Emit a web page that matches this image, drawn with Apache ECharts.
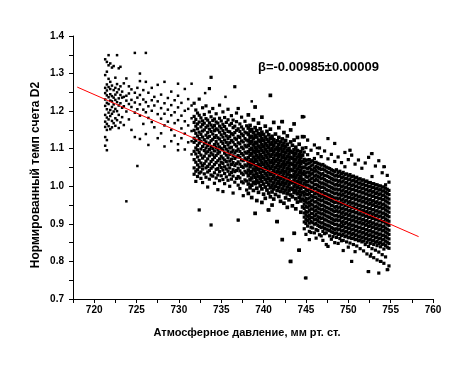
<!DOCTYPE html>
<html><head><meta charset="utf-8">
<script src="https://cdn.jsdelivr.net/npm/echarts@6/dist/echarts.min.js"></script>
<style>html,body{margin:0;padding:0;background:#fff}#c{width:469px;height:367px}</style>
</head><body><div id="c"></div>
<script>
// Each column: [pressure (mm Hg), normalized count rate x1000 ...]
const leftCluster = [
 [721.3,1338,1296,1262,1248,1231,1214,1190,1172,1158,1131,1108],
 [721.5,1331,1305,1271,1255,1242,1222,1205,1183,1166,1150,1123,1096],
 [721.7,1349,1322,1286,1264,1237,1219,1196,1178,1160],
 [721.9,1327,1278,1259,1245,1228,1203,1187,1152],
 [722.1,1316,1268,1240,1226,1211,1193,1174,1157],
 [722.3,1320,1256,1236,1218,1199,1168],
 [722.5,1289,1262,1244,1230,1206,1181,1161],
 [722.7,1349,1272,1250,1224,1200,1176],
 [722.9,1314,1258,1234,1215,1190,1155],
 [723.1,1318,1266,1243,1221,1170],
 [723.3,1252,1236,1209,1184],
 [723.5,1274,1238,1213,1163]
];
const midSparse = [
 [723.8,1287,1241,1228,1199,960],
 [724.1,1266,1247,1219,1178],
 [724.4,1258,1230,1211,1150],
 [724.8,1355,1249,1223,1196,1131],
 [725.1,1262,1236,1205,1054],
 [725.4,1300,1280,1243,1218,1188,1126],
 [725.8,1256,1231,1204,1166],
 [726.1,1355,1278,1224,1197,1139],
 [726.4,1249,1213,1182,1110],
 [726.8,1262,1229,1201,1171],
 [727.1,1238,1215,1157],
 [727.5,1270,1226,1192,1128],
 [727.9,1244,1208,1180,1141],
 [728.3,1278,1221,1193,1162,1106],
 [728.7,1235,1204,1172],
 [729.1,1252,1216,1189,1150,1120],
 [729.5,1229,1197,1168,1135],
 [729.9,1273,1241,1210,1176,1112,1096],
 [730.3,1222,1188,1154,1128],
 [730.7,1259,1201,1173,1140,1098],
 [731.1,1232,1206,1162,1117],
 [731.5,1273,1215,1181,1147,1120,1085]
];
const denseWest = [
 [731.8,1221,1186,1170,1149,1128,1117,1093,1071,1049,1032],
 [732.0,1203,1178,1160,1141,1122,1102,1086,1064,1040,1013],
 [732.2,1195,1166,1153,1134,1109,1097,1078,1057,1044,1026],
 [732.4,1232,1189,1171,1144,1127,1115,1090,1069,1051,1035,937],
 [732.6,1182,1158,1138,1120,1099,1083,1062,1038,1021],
 [732.8,1209,1174,1164,1147,1131,1106,1075,1055,1046,1010],
 [733.0,1191,1168,1150,1124,1113,1095,1080,1060,1033],
 [733.2,1214,1180,1157,1136,1118,1102,1088,1067,1049,1024],
 [733.4,1176,1161,1143,1129,1108,1092,1073,1053,1038,998],
 [733.6,1260,1198,1169,1152,1133,1115,1098,1081,1059,1042,1019],
 [733.8,1290,1185,1163,1146,1121,1106,1089,1066,1048,1030,897],
 [734.0,1207,1175,1157,1139,1125,1100,1084,1071,1052,1027],
 [734.2,1179,1162,1148,1130,1111,1094,1077,1058,1036,1008],
 [734.4,1193,1171,1153,1135,1119,1103,1082,1063,1045,1022],
 [734.6,1168,1150,1129,1112,1096,1087,1068,1047,1030,991],
 [734.8,1216,1181,1160,1144,1126,1105,1091,1073,1056,1039,1015],
 [735.0,1174,1155,1137,1119,1101,1080,1064,1050,1028],
 [735.2,1198,1165,1148,1131,1114,1097,1075,1061,1043,1018,986],
 [735.4,1183,1159,1141,1123,1106,1088,1070,1052,1034,1007],
 [735.6,1170,1152,1134,1117,1099,1083,1066,1046,1025],
 [735.8,1205,1177,1146,1127,1110,1093,1076,1057,1040,1016],
 [736.0,1163,1145,1132,1116,1102,1085,1067,1049,1031,1000],
 [736.2,1188,1167,1140,1122,1104,1091,1072,1058,1037,1019],
 [736.4,1176,1156,1137,1118,1096,1081,1063,1044,1027,982],
 [736.6,1265,1160,1143,1128,1111,1089,1074,1055,1039,1011],
 [736.8,1195,1172,1149,1125,1107,1094,1078,1060,1042,1021],
 [737.0,1207,1153,1133,1116,1099,1082,1065,1048,1026,1003,910],
 [737.2,1166,1146,1130,1113,1093,1077,1059,1041,1022,994],
 [737.4,1184,1158,1139,1121,1104,1087,1070,1053,1035,1012],
 [737.6,1152,1135,1118,1100,1083,1068,1050,1031,1009,975],
 [737.8,1173,1144,1127,1109,1091,1075,1057,1040,1017],
 [738.0,1161,1142,1123,1105,1088,1071,1054,1036,1014,990]
];
const denseCentral = [
 [738.2,1190,1155,1138,1121,1109,1092,1076,1061,1043,1028,1006,981],
 [738.4,1162,1147,1130,1114,1098,1083,1066,1052,1034,1017,996],
 [738.6,1151,1133,1119,1101,1087,1070,1057,1039,1022,1003,970],
 [738.8,1177,1143,1127,1110,1094,1078,1063,1046,1030,1011,989],
 [739.0,1211,1156,1136,1117,1104,1089,1072,1055,1041,1024,1007,928],
 [739.2,1148,1131,1115,1098,1081,1067,1050,1033,1016,995,962],
 [739.4,1168,1140,1123,1107,1092,1076,1059,1044,1026,1010,984],
 [739.6,1153,1135,1119,1102,1085,1070,1054,1037,1020,1001],
 [739.8,1184,1144,1127,1111,1096,1079,1063,1047,1029,1013,993,957],
 [740.0,1138,1122,1106,1090,1073,1058,1040,1024,1006,979],
 [740.2,1160,1131,1114,1099,1083,1066,1051,1034,1018,998,968],
 [740.4,1146,1125,1109,1093,1077,1060,1045,1028,1011,990],
 [740.6,1137,1119,1103,1086,1070,1054,1038,1021,1004,982,937],
 [740.8,1242,1152,1128,1112,1096,1080,1063,1047,1031,1014,996,972],
 [741.0,1133,1117,1101,1085,1068,1053,1036,1020,1003,985,950],
 [741.2,1170,1124,1108,1092,1075,1060,1043,1027,1009,993,966],
 [741.4,1139,1116,1099,1083,1067,1050,1034,1017,1000,978],
 [741.6,1121,1104,1088,1072,1056,1040,1023,1007,989,906],
 [741.8,1156,1130,1111,1095,1079,1062,1046,1030,1013,996,973],
 [742.0,1118,1101,1085,1069,1053,1037,1020,1004,986,960],
 [742.2,1172,1126,1108,1092,1076,1059,1043,1027,1010,993,858],
 [742.4,1143,1115,1099,1082,1066,1050,1034,1017,1001,983,955],
 [742.6,1122,1105,1089,1073,1057,1040,1024,1008,990,969],
 [742.8,1134,1112,1096,1079,1063,1047,1031,1014,998,980,944],
 [743.0,1101,1086,1070,1054,1038,1021,1005,988,964],
 [743.2,1150,1118,1093,1077,1061,1045,1028,1012,995,977,800],
 [743.4,1109,1090,1074,1058,1042,1025,1009,992,972,948],
 [743.6,1166,1123,1097,1081,1065,1049,1032,1016,999,983,875],
 [743.8,1104,1088,1071,1055,1039,1023,1006,989,967,940],
 [744.0,1130,1095,1078,1062,1046,1030,1013,997,980,958],
 [744.2,1112,1085,1069,1052,1036,1020,1004,987,970,830],
 [744.4,1092,1076,1060,1043,1027,1011,994,977,961,931],
 [744.6,1185,1132,1101,1083,1066,1050,1034,1018,1001,984,966,945]
];
const denseEast = [
 [744.8,1132,1091,1072,1063,1051,1040,1031,1017,1008,997,985,976,962,953,941,929,918,905,887],
 [745.0,1103,1069,1058,1049,1035,1026,1013,1004,991,980,968,959,946,933,924,912,901,872,756],
 [745.2,1123,1084,1070,1060,1047,1038,1024,1012,1003,989,978,966,955,944,931,920,909,894],
 [745.4,1071,1062,1050,1037,1028,1016,1001,992,981,969,957,948,936,922,913,902,880,858],
 [745.6,1096,1066,1054,1045,1032,1020,1011,997,986,975,961,952,940,928,917,906,891,877],
 [745.8,1068,1057,1043,1034,1022,1009,998,987,973,964,950,939,927,916,903,889],
 [746.0,1110,1074,1063,1049,1040,1027,1015,1004,993,980,971,958,945,934,921,911,899,876],
 [746.2,1064,1053,1042,1030,1019,1005,994,983,970,959,947,936,925,912,901,885,862],
 [746.4,1087,1061,1050,1038,1026,1015,1002,990,979,966,955,943,931,919,909,896,882],
 [746.6,1102,1059,1047,1035,1024,1011,999,988,975,964,952,940,929,917,905,893,871],
 [746.8,1079,1056,1045,1031,1020,1008,997,984,972,961,949,937,926,914,902,890,868],
 [747.0,1058,1046,1034,1022,1009,998,986,975,963,950,939,927,916,903,892,880,856],
 [747.2,1094,1054,1043,1029,1018,1006,995,981,970,958,947,935,924,911,899,888,874],
 [747.4,1051,1040,1028,1015,1004,991,980,968,957,944,933,921,910,897,886,876,845],
 [747.6,1127,1073,1049,1037,1026,1012,1001,989,977,966,954,942,931,919,907,895,884,840],
 [747.8,1047,1036,1023,1012,999,988,976,964,953,940,929,917,905,894,882,868],
 [748.0,1085,1044,1033,1021,1009,997,985,973,962,949,938,926,914,903,890,879,859],
 [748.2,1042,1031,1018,1007,994,983,971,959,948,935,924,912,901,888,877,866],
 [748.4,1114,1066,1039,1027,1016,1003,992,980,968,957,944,933,921,909,898,885,874,850],
 [748.6,1044,1029,1017,1005,993,982,969,958,946,935,922,911,899,887,876,864],
 [748.8,1078,1037,1026,1013,1002,990,978,966,955,942,931,919,908,895,884,872,848],
 [749.0,1040,1028,1015,1004,992,980,969,956,945,933,921,910,897,886,873,861],
 [749.2,1063,1034,1023,1011,999,987,976,963,952,940,928,917,904,893,881,869,855],
 [749.4,1037,1025,1014,1001,990,978,966,955,942,931,919,907,896,883,872,856,829],
 [749.6,1090,1052,1031,1020,1008,996,984,973,960,949,937,925,914,901,890,878,866],
 [749.8,1033,1021,1010,998,986,974,963,950,939,927,915,904,891,880,868,852],
 [750.0,1071,1028,1017,1005,993,981,970,957,946,934,922,911,898,887,875,863,838],
 [750.2,1096,1031,1019,1007,995,984,971,960,948,936,925,912,901,889,877,865,849],
 [750.4,1083,1026,1014,1002,991,978,967,955,943,932,919,908,896,884,872,861,800],
 [750.6,1027,1016,1004,992,980,969,956,945,933,921,910,897,886,874,862,845],
 [750.8,1059,1022,1011,999,988,975,964,952,940,929,916,905,893,881,869,858,826],
 [751.0,1024,1013,1001,989,977,966,953,942,930,918,907,894,883,871,859,841],
 [751.2,1070,1019,1008,996,985,972,961,949,937,926,913,902,890,878,866,855],
 [751.4,1020,1009,998,986,974,963,950,939,927,915,904,891,880,868,857,834],
 [751.6,1048,1016,1005,993,982,969,958,946,934,923,910,899,887,875,863,852],
 [751.8,1017,1006,995,983,971,960,947,936,924,912,901,888,877,865,854,828],
 [752.0,1062,1013,1002,990,979,966,955,943,931,920,907,896,884,872,860,845],
 [752.2,1014,1003,992,980,968,957,944,933,921,909,898,885,874,862,851,820],
 [752.4,1077,1010,999,987,976,963,952,940,928,917,904,893,881,869,857,840,773],
 [752.6,1010,1000,989,977,965,954,941,930,918,906,895,882,871,859,848,814],
 [752.8,1087,1026,1007,996,984,973,960,949,937,925,914,901,890,878,866,854,834],
 [753.0,1007,997,986,974,962,951,938,927,915,903,892,879,868,856,845,810],
 [753.2,1054,1004,993,981,970,957,946,934,922,911,898,887,875,863,851,830],
 [753.4,1004,994,983,971,959,948,935,924,912,900,889,876,865,853,842,804],
 [753.6,1068,1001,990,978,967,954,943,931,919,908,895,884,872,860,848,825,769],
 [753.8,1001,991,980,968,956,945,932,921,909,897,886,873,862,850,839,800],
 [754.0,1036,998,987,975,964,951,940,928,916,905,892,881,869,857,845,818],
 [754.2,1052,998,988,977,965,953,942,929,918,906,894,883,870,859,847,833,795],
 [754.4,1004,995,984,972,961,948,937,925,913,902,889,878,866,854,842,812],
 [754.6,1029,992,981,969,958,945,934,922,910,899,886,875,863,851,838,778],
 [754.8,1011,989,978,966,955,942,931,919,907,896,883,872,860,848,835,788]
];
// Scattered single points [pressure, rate x1000]
const outliers = [
 [737.0,1207],[739.0,1211],[742.1,1172],[744.8,1185],[744.7,1132],[745.2,1123],
 [748.4,1114],[750.2,1096],[750.4,1083],[752.7,1087],[754.3,1052],[746.3,1102],
 [737.0,910],[739.0,928],[740.5,937],[741.5,906],[743.7,875],[745.4,858],
 [752.7,820],[753.9,800],[754.7,778],[744.9,756],[743.1,800],[744.1,830],
 [747.6,840],[750.4,800],[752.3,773],[733.1,1248],[735.5,1238],[738.6,1226]
];
// Linear fit, slope -0.00985
const fitX = [718.0, 758.3];
const fitY = [1.264, 0.866];
const xTicks = [720,725,730,735,740,745,750,755,760];
const yTicks = [0.7,0.8,0.9,1.0,1.1,1.2,1.3,1.4];

function expand(cols){
  const out = [];
  cols.forEach(c => { for (let i = 1; i < c.length; i++) out.push([c[0], c[i] / 1000]); });
  return out;
}
const sparsePoints = [].concat(
  expand(leftCluster), expand(midSparse),
  outliers.map(p => [p[0], p[1] / 1000])
);
const westPoints = expand(denseWest);
const centralPoints = expand(denseCentral);
const eastPoints = expand(denseEast);

const FONT = "'Liberation Sans', Arial, sans-serif";
const dot = (data, size) => ({
  type: 'scatter', data: data, symbol: 'rect', symbolSize: size,
  itemStyle: {color: '#000', opacity: 1}, silent: true, large: false
});
const chart = echarts.init(document.getElementById('c'), null, {renderer: 'canvas'});
chart.setOption({
  animation: false,
  backgroundColor: '#ffffff',
  grid: {left: 73, right: 36, top: 36, bottom: 68, containLabel: false},
  xAxis: {
    type: 'value', min: 717.5, max: 760, interval: 2.5,
    axisLine: {show: true, onZero: false, lineStyle: {color: '#000', width: 1}},
    axisTick: {show: true, inside: false, length: 4, lineStyle: {color: '#000'}},
    splitLine: {show: false},
    axisLabel: {
      margin: 6, color: '#000', fontFamily: FONT, fontWeight: 'bold', fontSize: 10,
      showMinLabel: true, showMaxLabel: true,
      formatter: v => xTicks.indexOf(Math.round(v * 10) / 10) >= 0 ? String(Math.round(v)) : ''
    }
  },
  yAxis: {
    type: 'value', min: 0.7, max: 1.4, interval: 0.05,
    axisLine: {show: true, onZero: false, lineStyle: {color: '#000', width: 1}},
    axisTick: {show: true, inside: false, length: 4, lineStyle: {color: '#000'}},
    splitLine: {show: false},
    axisLabel: {
      margin: 9, color: '#000', fontFamily: FONT, fontWeight: 'bold', fontSize: 10,
      formatter: v => {
        const r = Math.round(v * 100) / 100;
        return yTicks.some(t => Math.abs(t - r) < 1e-6) ? r.toFixed(1) : '';
      }
    }
  },
  series: [
    dot(sparsePoints, 2.5),
    dot(westPoints, 3.2),
    dot(centralPoints, 3.7),
    dot(eastPoints, 3.2),
    {
      type: 'line', data: fitX.map((x, i) => [x, fitY[i]]), symbol: 'none',
      lineStyle: {color: '#ff0000', width: 1}, silent: true, z: 5
    }
  ],
  graphic: [
    {type: 'text', left: 258, top: 61, style: {text: 'β=-0.00985±0.00009', font: 'bold 13px ' + FONT, fill: '#000'}},
    {type: 'text', x: 247, y: 333, style: {text: 'Атмосферное давление, мм рт. ст.', font: 'bold 11px ' + FONT, fill: '#000', align: 'center', verticalAlign: 'middle'}},
    {type: 'text', x: 36, y: 175, rotation: Math.PI / 2, style: {text: 'Нормированный темп счета D2', font: 'bold 12px ' + FONT, fill: '#000', align: 'center', verticalAlign: 'middle'}}
  ]
});
</script>
</body></html>
